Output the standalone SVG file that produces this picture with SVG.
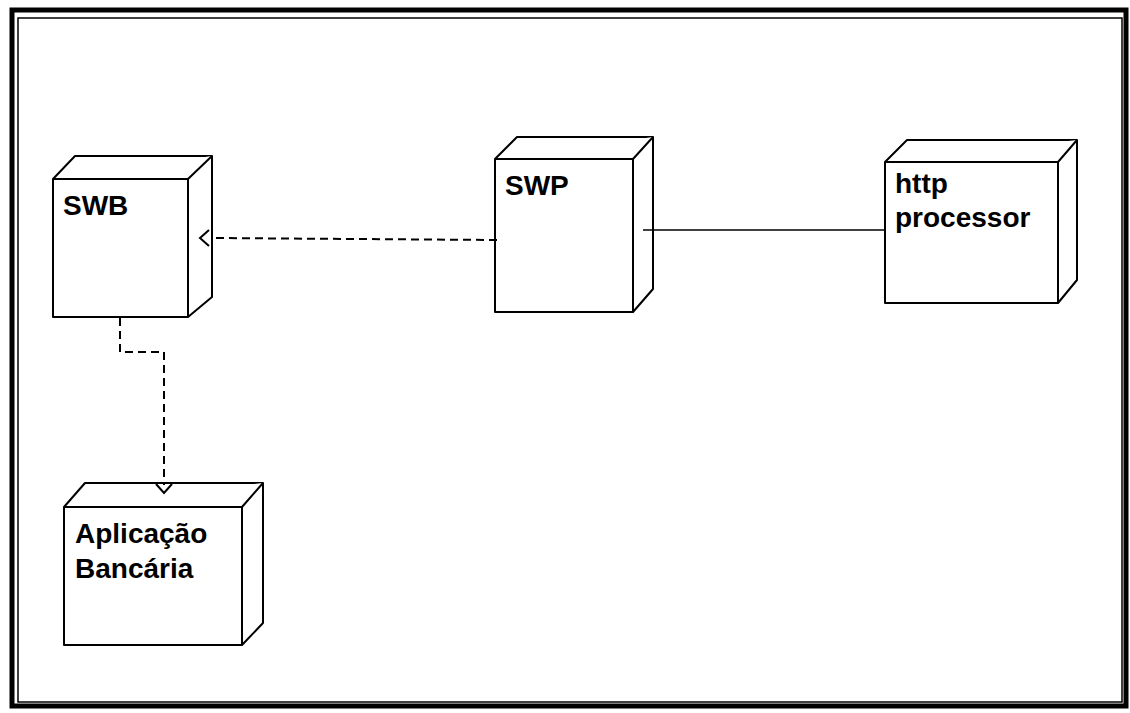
<svg xmlns="http://www.w3.org/2000/svg" width="1130" height="713" viewBox="0 0 1130 713">
<style>
.node path{fill:#fff;stroke:#000;stroke-width:2;stroke-linejoin:round}
.lbl{font-family:"Liberation Sans",Arial,sans-serif;font-weight:bold;font-size:28px;fill:#000}
.dash{fill:none;stroke:#000;stroke-width:2;stroke-dasharray:8 5}
.solid{fill:none;stroke:#000;stroke-width:1.5}
.head{fill:none;stroke:#000;stroke-width:2}
</style>
<rect width="1130" height="713" fill="#fff"/>
<rect x="12" y="10" width="1114" height="696" fill="none" stroke="#000" stroke-width="5"/>
<rect x="18" y="18" width="1104" height="684" fill="none" stroke="#000" stroke-width="1.5"/>

<g id="node-swb" class="node">
  <path d="M53,179 L75,156 L212,156 L212,297 L188,317 L53,317 Z"/>
  <path d="M53,179 L188,179 L212,156 M188,179 L188,317"/>
  <text class="lbl" x="63" y="215">SWB</text>
</g>

<g id="node-swp" class="node">
  <path d="M495,159 L517,137 L653,137 L653,289 L633,312 L495,312 Z"/>
  <path d="M495,159 L633,159 L653,137 M633,159 L633,312"/>
  <text class="lbl" x="505" y="195">SWP</text>
</g>

<g id="node-http" class="node">
  <path d="M885,162 L907,140 L1077,140 L1077,280 L1058,303 L885,303 Z"/>
  <path d="M885,162 L1058,162 L1077,140 M1058,162 L1058,303"/>
  <text class="lbl" x="895" y="193">http</text>
  <text class="lbl" x="895" y="227">processor</text>
</g>

<g id="node-app" class="node">
  <path d="M64,507 L85,483 L263,483 L263,623 L242,645 L64,645 Z"/>
  <path d="M64,507 L242,507 L263,483 M242,507 L242,645"/>
  <text class="lbl" x="75" y="543">Aplicação</text>
  <text class="lbl" x="75" y="578">Bancária</text>
</g>

<g id="connectors">
  <path class="dash" d="M497,240 L212,238"/>
  <path class="head" d="M209,230 L200,238 L209,246"/>
  <path class="solid" d="M643,230 L885,230"/>
  <path class="dash" d="M120,318 L120,352 L164,352 L164,485"/>
  <path class="head" d="M156,484 L164,493 L172,484"/>
</g>
</svg>
